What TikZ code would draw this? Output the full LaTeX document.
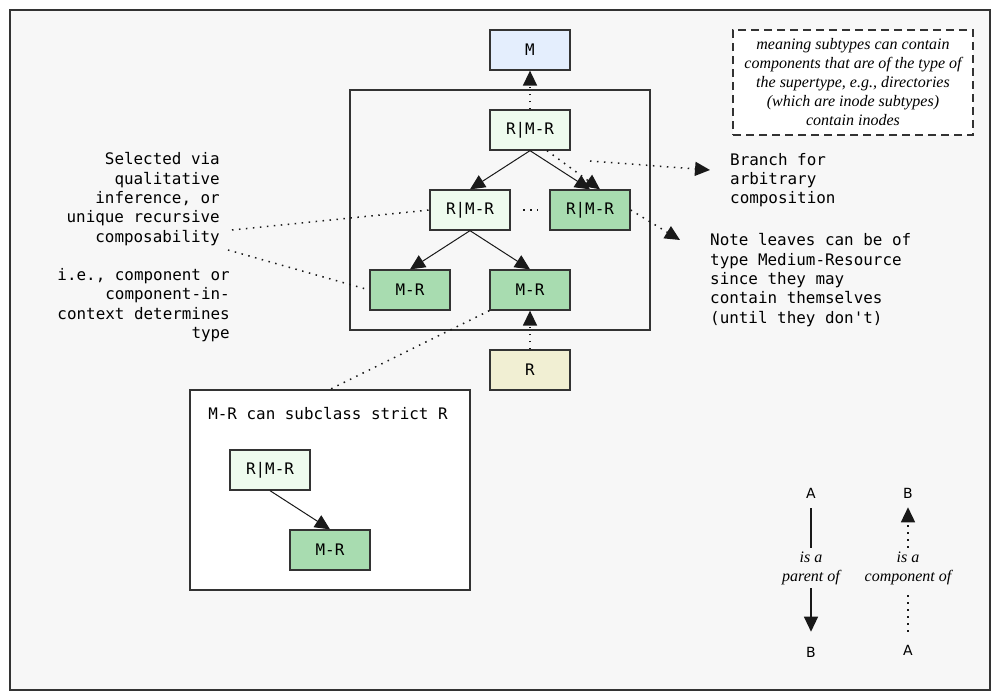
\documentclass[tikz,border=0pt]{standalone}
\usepackage{fontspec}
\setmonofont{DejaVu Sans Mono}
\newfontfamily\legendfont{DejaVu Sans}
\newfontfamily\notefont{Liberation Serif}
\usetikzlibrary{arrows.meta}

\definecolor{framegray}{HTML}{333333}
\definecolor{bggray}{HTML}{F7F7F7}
\definecolor{topblue}{HTML}{E4EEFD}
\definecolor{palegreen}{HTML}{EEFBEE}
\definecolor{midgreen}{HTML}{A8DCB0}
\definecolor{paleyellow}{HTML}{F1EFD3}

\tikzset{
  typebox/.style={draw=framegray, line width=1.3pt, minimum width=80pt, minimum height=40pt,
    inner sep=0pt, font=\ttfamily\fontsize{15.9}{19}\selectfont},
  mono/.style={font=\ttfamily\fontsize{15.9}{19.3}\selectfont, inner sep=0pt},
  remark/.style={font=\notefont\itshape\fontsize{16}{19}\selectfont, align=center},
  letter/.style={font=\legendfont\fontsize{14}{16}\selectfont, inner sep=3pt},
  parent/.style={-{Triangle[length=15pt,width=14pt]}, line width=1pt, draw=black!90},
  component/.style={-{Triangle[length=15pt,width=14pt]}, line width=1.5pt,
    dash pattern=on 1.5pt off 5.5pt, draw=black!90},
  hint/.style={line width=1.5pt, dash pattern=on 1.5pt off 5.5pt, draw=black!90},
}

\begin{document}
\begin{tikzpicture}[x=1pt, y=-1pt]
      \useasboundingbox (0,0) rectangle (1000,700);
      \draw[fill=bggray, draw=framegray, line width=1.3pt] (10,10) rectangle (990,690);

      % cluster and the subclass panel
      \draw[draw=framegray, line width=1.3pt] (350,90) rectangle (650,330);
      \node[draw=framegray, fill=white, line width=1.3pt, minimum width=280pt, minimum height=200pt] (subbox) at (330,490) {};
      \node[mono] (subtitle) at (328,414) {M-R can subclass strict R};

      % type boxes
      \node[typebox, fill=topblue] (M) at (530,50) {M};
      \node[typebox, fill=palegreen] (top) at (530,130) {R|M-R};
      \node[typebox, fill=palegreen] (midL) at (470,210) {R|M-R};
      \node[typebox, fill=midgreen] (midR) at (590,210) {R|M-R};
      \node[typebox, fill=midgreen] (leafL) at (410,290) {M-R};
      \node[typebox, fill=midgreen] (leafR) at (530,290) {M-R};
      \node[typebox, fill=paleyellow] (R) at (530,370) {R};
      \node[typebox, fill=palegreen] (subR) at (270,470) {R|M-R};
      \node[typebox, fill=midgreen] (subM) at (330,550) {M-R};

      % notes
      \node[mono, align=right, anchor=east] (selnote) at (220,199) {Selected via\\qualitative\\inference, or\\unique recursive\\composability};
      \node[mono, align=right, anchor=east] (ienote) at (230,305) {i.e., component or\\component-in-\\context determines\\type};
      \node[mono, align=left, anchor=west] (branch) at (730,180) {Branch for\\arbitrary\\composition};
      \node[mono, align=left, anchor=west] (leaves) at (710,280) {Note leaves can be of\\type Medium-Resource\\since they may\\contain themselves\\(until they don't)};
      \node[remark, draw=framegray, fill=white, line width=1.3pt, dash pattern=on 8pt off 5pt,
        minimum width=240pt, minimum height=105pt, inner sep=0pt] (meaning) at (853,82.5)
        {meaning subtypes can contain\\components that are of the type of\\the supertype, e.g., directories\\(which are inode subtypes)\\contain inodes};

      % free ends
      \coordinate (branchtail) at (590,161);
      \coordinate (branchtip) at (710,170);
      \coordinate (leavestip) at (680,240);
      \coordinate (seltail) at (232,230);
      \coordinate (ietail) at (228,250);

      % parent edges
      \draw[parent] (top.south) -- (midL.north);
      \draw[parent] (top.south) -- (midR.north);
      \draw[parent] (midL.south) -- (leafL.north);
      \draw[parent] (midL.south) -- (leafR.north);
      \draw[parent] (subR.south) -- (subM.north);

      % component edges
      \draw[component] (top.north) -- (M.south);
      \draw[component] (R.north) -- (leafR.south);
      \draw[component] ([xshift=17pt]top.south) -- ([xshift=10pt]midR.north);
      \draw[component] (branchtail) -- (branchtip);
      \draw[component] (midR.east) -- (leavestip);
      \draw[hint, shorten <=12.5pt, shorten >=12pt] (midL.east) -- (midR.west);
      \draw[hint] (seltail) -- (midL.west);
      \draw[hint] (ietail) -- (leafL.west);
      \draw[hint] (leafR.south west) -- (subbox.north);

      % legend
      \node[letter] (pa) at (811,493) {A};
      \node[letter] (pb) at (811,652) {B};
      \node[remark] (plabel) at (811,568) {is a\\parent of};
      \draw[line width=1.3pt, draw=black!90, shorten <=7pt] (pa) -- (plabel);
      \draw[parent, line width=1.3pt, shorten >=12pt] (plabel) -- (pb);
      \node[letter] (cb) at (908,493) {B};
      \node[letter] (ca) at (908,650) {A};
      \node[remark] (clabel) at (908,568) {is a\\component of};
      \draw[hint, shorten <=10pt, shorten >=4pt] (ca) -- (clabel);
      \draw[component, shorten >=6pt] (clabel) -- (cb);
\end{tikzpicture}
\end{document}
